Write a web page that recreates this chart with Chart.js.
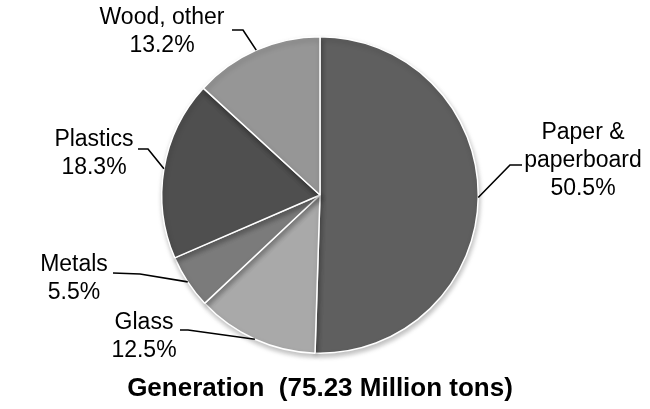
<!DOCTYPE html>
<html lang="en">
<head>
  <meta charset="UTF-8" />
  <title>Generation pie</title>
  <script src="https://cdn.jsdelivr.net/npm/chart.js"></script>
  <style>
    html, body { margin: 0; padding: 0; background: #fff; }
    #wrap { width: 650px; height: 409px; position: relative; }
  </style>
</head>
<body>
  <div id="wrap"><canvas id="pieChart"></canvas></div>

  <script>
    // data
    const categories = ['Paper &\npaperboard', 'Glass', 'Metals', 'Plastics', 'Wood, other'];
    const shares = [50.5, 12.5, 5.5, 18.3, 13.2];
    const sliceColors = ['#5f5f5f', '#a9a9a9', '#7b7b7b', '#4f4f4f', '#969696'];
    const chartTitle = 'Generation  (75.23 Million tons)';

    // where each label sits: text centre x, first line middle y, leader start and elbow
    const labelLayout = [
      { x: 583, y: 133, from: [522, 165], elbow: [510, 165] },
      { x: 144, y: 323, from: [180, 330], elbow: [188, 330] },
      { x: 74,  y: 265, from: [113, 273], elbow: [140, 274] },
      { x: 94,  y: 140, from: [138, 149], elbow: [148, 149] },
      { x: 162, y: 18,  from: [232, 30],  elbow: [243, 30] }
    ];

    const shadowPlugin = {
      id: 'sliceShadow',
      beforeDatasetsDraw(chart) {
        const ctx = chart.ctx;
        ctx.save();
        ctx.shadowColor = 'rgba(0,0,0,0.25)';
        ctx.shadowBlur = 5;
        ctx.shadowOffsetX = 1;
        ctx.shadowOffsetY = 3;
      },
      afterDatasetsDraw(chart) {
        chart.ctx.restore();
      }
    };

    const labelPlugin = {
      id: 'pieLabels',
      afterDraw(chart) {
        const ctx = chart.ctx;
        const meta = chart.getDatasetMeta(0);
        ctx.save();
        ctx.fillStyle = '#000';
        ctx.strokeStyle = '#000';
        ctx.lineWidth = 1.6;
        ctx.textAlign = 'center';
        ctx.textBaseline = 'middle';
        ctx.font = '23px "Liberation Sans", Arial, sans-serif';

        meta.data.forEach((arc, i) => {
          const pos = labelLayout[i];
          const lines = categories[i].split('\n').concat(shares[i].toFixed(1) + '%');
          lines.forEach((t, k) => ctx.fillText(t, pos.x, pos.y + k * 28));

          // leader to the middle of the slice edge
          const mid = (arc.startAngle + arc.endAngle) / 2;
          const ex = arc.x + Math.cos(mid) * arc.outerRadius;
          const ey = arc.y + Math.sin(mid) * arc.outerRadius;
          ctx.beginPath();
          ctx.moveTo(pos.from[0], pos.from[1]);
          ctx.lineTo(pos.elbow[0], pos.elbow[1]);
          ctx.lineTo(ex, ey);
          ctx.stroke();
        });

        ctx.font = 'bold 26px "Liberation Sans", Arial, sans-serif';
        ctx.fillText(chartTitle, 320, 389);
        ctx.restore();
      }
    };

    new Chart(document.getElementById('pieChart'), {
      type: 'pie',
      data: {
        labels: categories,
        datasets: [{
          data: shares,
          backgroundColor: sliceColors,
          borderColor: '#ffffff',
          borderWidth: 1.5
        }]
      },
      options: {
        responsive: true,
        maintainAspectRatio: false,
        animation: false,
        layout: { padding: { top: 36, bottom: 55, left: 161, right: 171 } },
        plugins: {
          legend: { display: false },
          tooltip: { enabled: false }
        }
      },
      plugins: [shadowPlugin, labelPlugin]
    });
  </script>
</body>
</html>
